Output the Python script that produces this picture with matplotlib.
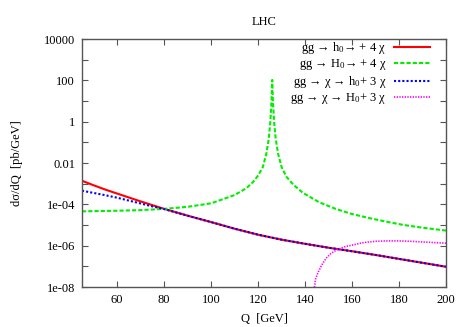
import matplotlib
matplotlib.use('Agg')
import matplotlib.pyplot as plt
import numpy as np
from matplotlib.ticker import FixedLocator, FixedFormatter, NullLocator, NullFormatter

plt.rcParams['font.family'] = ['Liberation Serif', 'DejaVu Serif']
plt.rcParams['mathtext.fontset'] = 'custom'
plt.rcParams['mathtext.rm'] = 'Liberation Serif'
plt.rcParams['mathtext.it'] = 'Liberation Serif:italic'

fontsize = 9

# values, as log10 of dsigma/dQ
red_q = [45, 50, 55, 60, 65, 70, 75, 80, 90, 100, 110, 120, 130, 140, 150, 160, 170, 180, 190, 200]
red_log10 = [-2.86, -3.08, -3.29, -3.48, -3.67, -3.86, -4.04, -4.22, -4.55, -4.86, -5.18, -5.47,
             -5.71, -5.91, -6.1, -6.27, -6.45, -6.64, -6.83, -7.02]

blue_q = [45, 50, 55, 60, 65, 70, 75, 80, 90, 100, 110, 120, 130, 140, 150, 160, 170, 180, 190, 200]
blue_log10 = [-3.34, -3.45, -3.56, -3.68, -3.82, -3.96, -4.1, -4.23, -4.55, -4.86, -5.18, -5.47,
              -5.71, -5.91, -6.1, -6.27, -6.45, -6.64, -6.83, -7.02]

green_q = [45, 60, 70, 80, 90, 100, 110, 115, 118, 120, 122, 123.5, 124.5, 125.2, 125.7, 126.0,
           126.3, 126.8, 127.5, 128.5, 130, 132, 135, 139, 146, 153, 160, 167.5, 175, 182, 190, 200]
green_log10 = [-4.34, -4.31, -4.28, -4.22, -4.12, -3.95, -3.55, -3.22, -2.9, -2.6, -2.2, -1.55,
               -0.85, 0.0, 1.0, 2.02, 1.0, 0.0, -0.85, -1.55, -2.2, -2.66, -3.05, -3.44, -3.9,
               -4.22, -4.47, -4.67, -4.85, -5.0, -5.13, -5.27]

magenta_q = [143.5, 144.5, 145.5, 147, 149, 151, 153.5, 157, 160.5, 165, 170, 175, 180, 185, 190, 195, 200]
magenta_log10 = [-8.4, -7.6, -7.3, -6.95, -6.6, -6.38, -6.2, -6.05, -5.96, -5.85, -5.79, -5.77,
                 -5.77, -5.79, -5.82, -5.85, -5.88]

labels = ['gg \u2192 h$_0$\u2192 + 4 \u03c7',
          'gg \u2192 H$_0$\u2192 + 4 \u03c7',
          'gg \u2192 \u03c7 \u2192 h$_0$+ 3 \u03c7',
          'gg \u2192 \u03c7 \u2192 H$_0$+ 3 \u03c7']

y_ticks = [1e4, 1e2, 1, 1e-2, 1e-4, 1e-6, 1e-8]
y_ticklabels = ['10000', '100', '1', '0.01', '1e-04', '1e-06', '1e-08']
y_minor = [1e3, 1e1, 1e-1, 1e-3, 1e-5, 1e-7]
x_ticks = [60, 80, 100, 120, 140, 160, 180, 200]

fig = plt.figure(figsize=(4.67, 3.27), dpi=100)
ax = fig.add_axes([82 / 467, 1 - 287 / 327, (446 - 82) / 467, (287 - 39) / 327])

ax.plot(red_q, np.power(10.0, red_log10), color='#ff0000', lw=1.5, label=labels[0])
ax.plot(green_q, np.power(10.0, green_log10), color='#00ee00', lw=1.5, linestyle=(0, (2, 1)), label=labels[1])
ax.plot(blue_q, np.power(10.0, blue_log10), color='#0000ff', lw=1.5, linestyle=(0, (1, 1)), label=labels[2])
ax.plot(magenta_q, np.power(10.0, magenta_log10), color='#ff00ff', lw=1.2, linestyle=(0, (0.8, 0.8)), label=labels[3])

ax.set_yscale('log')
ax.set_xlim(45, 200)
ax.set_ylim(1e-8, 1e4)

ax.yaxis.set_major_locator(FixedLocator(y_ticks))
ax.yaxis.set_major_formatter(FixedFormatter(y_ticklabels))
ax.yaxis.set_minor_locator(FixedLocator(y_minor))
ax.yaxis.set_minor_formatter(NullFormatter())
ax.xaxis.set_major_locator(FixedLocator(x_ticks))
ax.xaxis.set_minor_locator(NullLocator())

spine_col = '#555555'
for s in ax.spines.values():
    s.set_color(spine_col)
    s.set_linewidth(1.0)
ax.tick_params(which='both', direction='in', top=True, right=True, color=spine_col,
               labelsize=fontsize, length=4, width=0.8, pad=5)

ax.set_title('LHC', fontsize=fontsize, pad=10)
ax.set_xlabel('Q  [GeV]', fontsize=fontsize, labelpad=5)
ax.set_ylabel('d\u03c3/dQ  [pb/GeV]', fontsize=fontsize, labelpad=15)

leg = ax.legend(loc='upper right', bbox_to_anchor=(430 / 467, 1 - 40 / 327),
                bbox_transform=fig.transFigure, frameon=False, markerfirst=False,
                fontsize=fontsize, handlelength=2.9, handletextpad=0.6,
                labelspacing=0.12, borderpad=0, borderaxespad=0)

fig.savefig('out.png', dpi=100)
